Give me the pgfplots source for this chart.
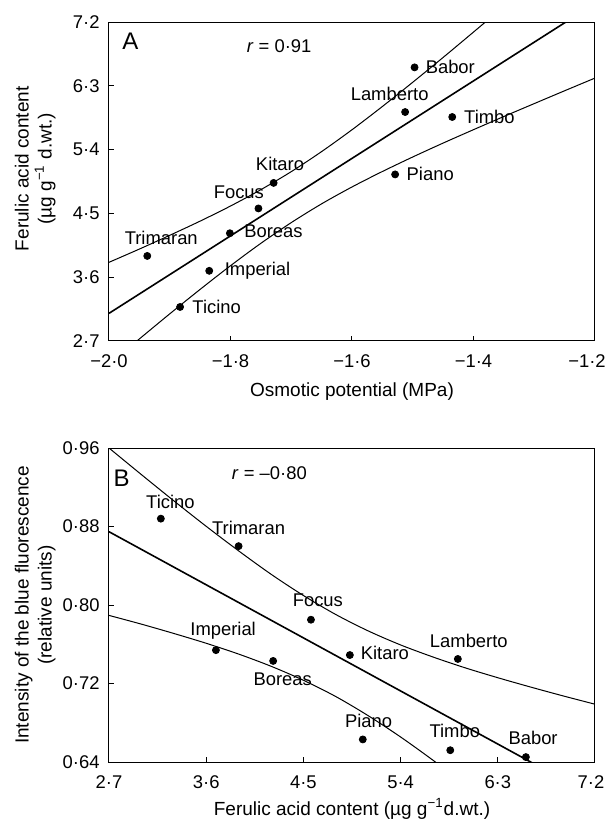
\documentclass[border=0pt]{standalone}
\usepackage{fontspec}
\setmainfont{Liberation Sans}
\usepackage{pgfplots}
\pgfplotsset{compat=1.18}
\tikzset{lbl/.style={font=\fontsize{9.2}{11}\selectfont, inner sep=0pt}}
\pgfplotsset{
  myax/.style={
    scale only axis, width=243pt,
    axis line style={line width=0.5pt, black},
    tick align=inside, xtick pos=bottom, ytick pos=left,
    major tick length=2.5pt, tick style={line width=0.5pt, black},
    ticklabel style={font=\fontsize{9.2}{11}\selectfont},
    yticklabel style={xshift=-1.2pt},
    xticklabel style={yshift=-3.5pt},
    label style={font=\fontsize{9.5}{11.5}\selectfont, align=center},
    clip mode=individual,
  },
  band/.style={black, line width=0.5pt, smooth, no marks},
  reg/.style={black, line width=0.8pt, no marks},
  pts/.style={only marks, mark=*, mark size=1.75pt, black},
}
\begin{document}
\begin{tikzpicture}
\path[use as bounding box] (-54.5pt,-29pt) rectangle (250.5pt,381pt);
% ---------------- Panel A ----------------
\begin{axis}[myax, at={(0,210.5pt)}, anchor=south west, height=159.5pt,
  xmin=-2.0, xmax=-1.2, ymin=2.7, ymax=7.2,
  xtick={-2.0,-1.8,-1.6,-1.4,-1.2},
  xticklabels={−2·0,−1·8,−1·6,−1·4,\hspace*{-8pt}−1·2},
  ytick={2.7,3.6,4.5,5.4,6.3,7.2},
  yticklabels={2·7,3·6,4·5,5·4,6·3,7·2},
  xlabel={Osmotic potential (MPa)},
  ylabel={Ferulic acid content\\(µg g\textsuperscript{−1} d.wt.)},
  xlabel style={at={(axis description cs:0.5,0)}, anchor=center, yshift=-25.5pt},
  ylabel style={at={(axis description cs:-0.152,0.54)}, anchor=center},
]
\addplot[band] coordinates {(-2.0,3.810) (-1.95,3.997) (-1.9,4.191) (-1.85,4.391) (-1.8,4.604) (-1.75,4.835) (-1.7,5.089) (-1.65,5.372) (-1.6,5.680) (-1.55,6.008) (-1.5,6.350) (-1.45,6.700) (-1.4,7.058) (-1.35,7.419) (-1.3,7.783)};
\addplot[band] coordinates {(-2.0,2.370) (-1.95,2.729) (-1.9,3.083) (-1.85,3.428) (-1.8,3.762) (-1.75,4.078) (-1.7,4.370) (-1.65,4.635) (-1.6,4.873) (-1.55,5.091) (-1.5,5.296) (-1.45,5.492) (-1.4,5.681) (-1.35,5.867) (-1.3,6.049) (-1.25,6.230) (-1.2,6.409)};
\addplot[reg] coordinates {(-2.0,3.09) (-1.2,7.462)};
\addplot[pts] coordinates {(-1.497,6.56) (-1.5125,5.93) (-1.435,5.86) (-1.529,5.05) (-1.729,4.93) (-1.754,4.57) (-1.801,4.22) (-1.937,3.90) (-1.835,3.69) (-1.883,3.18)};
\node[lbl, anchor=west, xshift=5.4pt] at (axis cs:-1.497,6.56) {Babor};
\node[lbl, xshift=-7.75pt, yshift=8.9pt] at (axis cs:-1.5125,5.93) {Lamberto};
\node[lbl, anchor=west, xshift=5.8pt] at (axis cs:-1.435,5.86) {Timbo};
\node[lbl, anchor=west, xshift=5.6pt] at (axis cs:-1.529,5.05) {Piano};
\node[lbl, xshift=3.2pt, yshift=9.5pt] at (axis cs:-1.729,4.93) {Kitaro};
\node[lbl, xshift=-9.8pt, yshift=8.1pt] at (axis cs:-1.754,4.57) {Focus};
\node[lbl, anchor=west, xshift=7pt, yshift=0.8pt] at (axis cs:-1.801,4.22) {Boreas};
\node[lbl, xshift=7pt, yshift=9.1pt] at (axis cs:-1.937,3.90) {Trimaran};
\node[lbl, anchor=west, xshift=7.6pt] at (axis cs:-1.835,3.69) {Imperial};
\node[lbl, anchor=west, xshift=6pt] at (axis cs:-1.883,3.18) {Ticino};
\node[font=\fontsize{12}{14}\selectfont, inner sep=0pt] at (axis description cs:0.044,0.94) {A};
\node[lbl] at (axis description cs:0.35,0.923) {\textit{r} = 0·91};
\end{axis}
% ---------------- Panel B ----------------
\begin{axis}[myax, at={(0,0)}, anchor=south west, height=157pt,
  xmin=2.7, xmax=7.2, ymin=0.64, ymax=0.96,
  xtick={2.7,3.6,4.5,5.4,6.3,7.2},
  xticklabels={2·7,3·6,4·5,5·4,6·3,\hspace*{-4pt}7·2},
  ytick={0.64,0.72,0.80,0.88,0.96},
  yticklabels={0·64,0·72,0·80,0·88,0·96},
  xlabel={Ferulic acid content (µg g\textsuperscript{−1}d.wt.)},
  ylabel={Intensity of the blue fluorescence\\(relative units)},
  xlabel style={at={(axis description cs:0.5,0)}, anchor=center, yshift=-23.5pt},
  ylabel style={at={(axis description cs:-0.152,0.5)}, anchor=center},
]
\addplot[band] coordinates {(2.7,0.9600) (3.0,0.9329) (3.3,0.9062) (3.6,0.8802) (3.9,0.8552) (4.2,0.8314) (4.5,0.8097) (4.8,0.7903) (5.1,0.7736) (5.4,0.7593) (5.7,0.7470) (6.0,0.7359) (6.3,0.7259) (6.6,0.7165) (6.9,0.7075) (7.2,0.6989)};
\addplot[band] coordinates {(2.7,0.7894) (3.0,0.7805) (3.3,0.7710) (3.6,0.7610) (3.9,0.7500) (4.2,0.7376) (4.5,0.7233) (4.8,0.7067) (5.1,0.6872) (5.4,0.6655) (5.7,0.6418) (6.0,0.6167)};
\addplot[reg] coordinates {(2.7,0.8747) (7.2,0.6042)};
\addplot[pts] coordinates {(3.18,0.888) (3.90,0.860) (4.57,0.785) (4.93,0.749) (5.93,0.745) (3.69,0.754) (4.22,0.743) (5.05,0.663) (5.86,0.652) (6.56,0.645)};
\node[lbl, xshift=4.8pt, yshift=8.6pt] at (axis cs:3.18,0.888) {Ticino};
\node[lbl, xshift=5pt, yshift=9.1pt] at (axis cs:3.90,0.860) {Trimaran};
\node[lbl, xshift=3.45pt, yshift=9.9pt] at (axis cs:4.57,0.785) {Focus};
\node[lbl, anchor=west, xshift=5.3pt, yshift=1.15pt] at (axis cs:4.93,0.749) {Kitaro};
\node[lbl, xshift=5.5pt, yshift=8.9pt] at (axis cs:5.93,0.745) {Lamberto};
\node[lbl, xshift=3.6pt, yshift=9.6pt] at (axis cs:3.69,0.754) {Imperial};
\node[lbl, xshift=4.8pt, yshift=-9.2pt] at (axis cs:4.22,0.743) {Boreas};
\node[lbl, xshift=2.9pt, yshift=9.1pt] at (axis cs:5.05,0.663) {Piano};
\node[lbl, xshift=2.25pt, yshift=9.7pt] at (axis cs:5.86,0.652) {Timbo};
\node[lbl, xshift=3.6pt, yshift=9.4pt] at (axis cs:6.56,0.645) {Babor};
\node[font=\fontsize{12}{14}\selectfont, inner sep=0pt] at (axis description cs:0.026,0.904) {B};
\node[lbl] at (axis description cs:0.33,0.921) {\textit{r} = –0·80};
\end{axis}
\end{tikzpicture}
\end{document}
